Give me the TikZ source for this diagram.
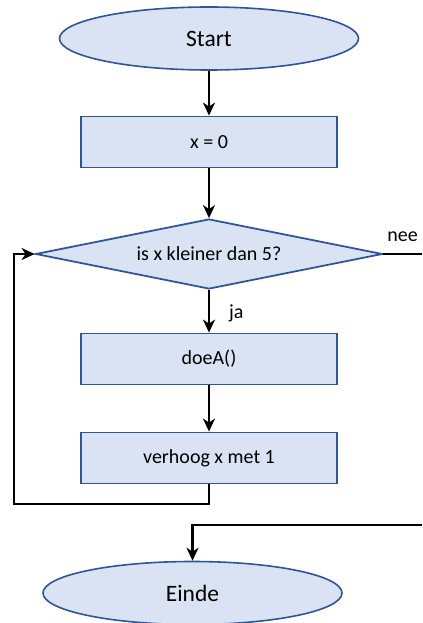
\documentclass[tikz,border=0pt]{standalone}
\usepackage{fontspec}
\setmainfont{Carlito}
\usetikzlibrary{shapes.geometric,arrows.meta}
\definecolor{boxfill}{HTML}{DAE3F3}
\definecolor{boxdraw}{HTML}{2F5597}
\begin{document}
\begin{tikzpicture}[x=1bp,y=-1bp,
  terminal/.style={ellipse,draw=boxdraw,fill=boxfill,line width=1.6bp,minimum width=299bp,minimum height=63bp,inner sep=0pt,font=\fontsize{23.5bp}{28bp}\selectfont},
  procbox/.style={rectangle,draw=boxdraw,fill=boxfill,line width=1.8bp,minimum width=256bp,minimum height=51bp,inner sep=0pt,font=\fontsize{20bp}{24bp}\selectfont},
  decision/.style={diamond,aspect=4.96,draw=boxdraw,fill=boxfill,line width=1.8bp,minimum width=347bp,minimum height=70bp,inner sep=0pt,font=\fontsize{20bp}{24bp}\selectfont},
  lbl/.style={inner sep=0pt,font=\fontsize{20bp}{24bp}\selectfont},
  conn/.style={line width=2.3bp,black,-{Stealth[length=13bp,width=12bp,inset=4bp]}},
  plain/.style={line width=2.3bp,black}]
\useasboundingbox (0,0) rectangle (422,623);
\node[terminal] (start) at (209,38.5) {Start};
\node[procbox] (x0) at (209,142) {x = 0};
\node[decision] (dia) at (209,254) {is x kleiner dan 5?};
\node[procbox] (doe) at (209,359) {doeA()};
\node[procbox] (verh) at (209,458) {verhoog x met 1};
\node[terminal] (einde) at (192.5,593) {Einde};
\coordinate (lp) at (14,504);
\coordinate (neeEnd) at (422,254);
\coordinate (endIn) at (422,525);
\draw[conn] (start) -- (x0);
\draw[conn] (x0) -- (dia);
\draw[conn] (dia) -- node[lbl,anchor=west,xshift=19bp,yshift=-2bp] (ja) {ja} (doe);
\draw[conn] (doe) -- (verh);
\draw[conn] (verh.south) |- (lp) |- (dia.west);
\draw[plain] (dia.east) -- (neeEnd);
\node[lbl] (nee) at (402.5,237) {nee};
\draw[conn] (endIn) -| (einde.north);
\end{tikzpicture}
\end{document}
